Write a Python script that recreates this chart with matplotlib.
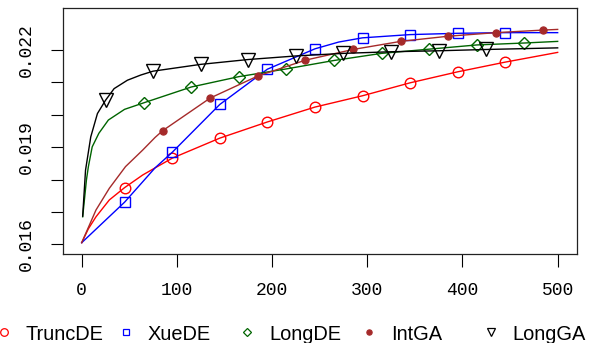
#!/usr/bin/env python3
"""
plot.py - Convergence curves of five optimisers (TruncDE, XueDE, LongDE, IntGA, LongGA).
"""

import matplotlib
matplotlib.use("Agg")
import matplotlib.pyplot as plt
from matplotlib.lines import Line2D

# Values (x = iteration, y = objective)
trunc_x = [0, 7, 15, 29, 45, 64, 77, 95, 145, 195, 245, 295, 345, 395, 445, 500]
trunc_y = [0.01605, 0.01648, 0.01685, 0.01737, 0.01775, 0.01814, 0.01836, 0.01866,
           0.01928, 0.01978, 0.02024, 0.02059, 0.02099, 0.02133, 0.02163, 0.02193]

xue_x = [0, 45, 77, 95, 145, 195, 245, 270, 295, 345, 395, 445, 500]
xue_y = [0.01605, 0.01730, 0.01836, 0.01884, 0.02032, 0.02141, 0.02204, 0.02225,
         0.02238, 0.02248, 0.02252, 0.02254, 0.02254]

longde_x = [1, 5, 7, 11, 18, 28, 45, 65, 115, 165, 215, 265, 315, 365, 415, 465, 500]
longde_y = [0.01685, 0.01800, 0.01840, 0.01901, 0.01943, 0.01984, 0.02017, 0.02037,
            0.02086, 0.02118, 0.02142, 0.02168, 0.02190, 0.02203, 0.02216, 0.02222,
            0.02227]

intga_x = [0, 15, 29, 46, 64, 77, 85, 135, 185, 235, 285, 335, 385, 435, 485, 500]
intga_y = [0.01605, 0.01706, 0.01773, 0.01840, 0.01891, 0.01930, 0.01951, 0.02052,
           0.02120, 0.02169, 0.02202, 0.02227, 0.02243, 0.02254, 0.02262, 0.02264]

longga_x = [1, 4, 9.5, 16.5, 25, 34, 48, 62, 75, 125, 175, 225, 275, 325, 375, 425, 500]
longga_y = [0.01687, 0.01829, 0.01932, 0.02004, 0.02045, 0.02081, 0.02107, 0.02123,
            0.02135, 0.02156, 0.02171, 0.02182, 0.02190, 0.02195, 0.02198, 0.02202,
            0.02207]

# iterations at which a symbol is drawn on each curve
trunc_marks = [45, 95, 145, 195, 245, 295, 345, 395, 445]
xue_marks = [45, 95, 145, 195, 245, 295, 345, 395, 445]
longde_marks = [65, 115, 165, 215, 265, 315, 365, 415, 465]
intga_marks = [85, 135, 185, 235, 285, 335, 385, 435, 485]
longga_marks = [25, 75, 125, 175, 225, 275, 325, 375, 425]

names = ["TruncDE", "XueDE", "LongDE", "IntGA", "LongGA"]
x_ticks = [0, 100, 200, 300, 400, 500]
y_ticks = [0.016, 0.017, 0.018, 0.019, 0.020, 0.021, 0.022]
y_labels = ["0.016", "", "", "0.019", "", "", "0.022"]

styles = [
    dict(color="#FF0000", marker="o", ms=7.6, mfc="none", mew=1.0),
    dict(color="#0000FF", marker="s", ms=6.6, mfc="none", mew=1.0),
    dict(color="#006400", marker="D", ms=5.8, mfc="none", mew=1.0),
    dict(color="#A52A2A", marker="o", ms=5.2, mfc="#A52A2A", mew=0.8),
    dict(color="#000000", marker="v", ms=9.5, mfc="none", mew=1.0),
]

MONO = "Liberation Mono"
SANS = "Liberation Sans"


def main():
    series = [
        (trunc_x, trunc_y, trunc_marks),
        (xue_x, xue_y, xue_marks),
        (longde_x, longde_y, longde_marks),
        (intga_x, intga_y, intga_marks),
        (longga_x, longga_y, longga_marks),
    ]

    fig = plt.figure(figsize=(5.97, 3.43), dpi=100)
    ax = fig.add_axes([0.105, 0.2595, 0.861, 0.717])

    for (xs, ys, marks), st in zip(series, styles):
        every = [i for i, x in enumerate(xs) if x in marks]
        ax.plot(xs, ys, lw=1.0, markevery=every, **st)

    ax.set_xlim(-20, 520)
    ax.set_ylim(0.0157, 0.0233)

    ax.set_xticks(x_ticks)
    ax.set_xticklabels([str(t) for t in x_ticks], fontfamily=MONO, fontsize=13)
    ax.set_yticks(y_ticks)
    ax.set_yticklabels(y_labels, fontfamily=MONO, fontsize=13, rotation=90, va="center")
    ax.tick_params(axis="both", length=9, width=0.8, direction="out", color="black")
    ax.tick_params(axis="x", pad=11)
    ax.tick_params(axis="y", pad=11)
    for sp in ax.spines.values():
        sp.set_linewidth(0.9)
        sp.set_color("#222222")

    # horizontal legend under the plot, R style
    for i, (name, st) in enumerate(zip(names, styles)):
        mx = (4 + 121.7 * i) / 597
        my = (343 - 332) / 343
        fig.add_artist(Line2D([mx], [my], transform=fig.transFigure, linestyle="none",
                              marker=st["marker"], color=st["color"], mfc=st["mfc"],
                              ms=min(st["ms"] * 0.72, 5.5), mew=0.9))
        fig.text(mx + 22 / 597, (343 - 334) / 343, name, fontfamily=SANS, fontsize=14.4,
                 ha="left", va="center")

    fig.savefig("out.png", dpi=100)
    plt.close(fig)


if __name__ == "__main__":
    main()
